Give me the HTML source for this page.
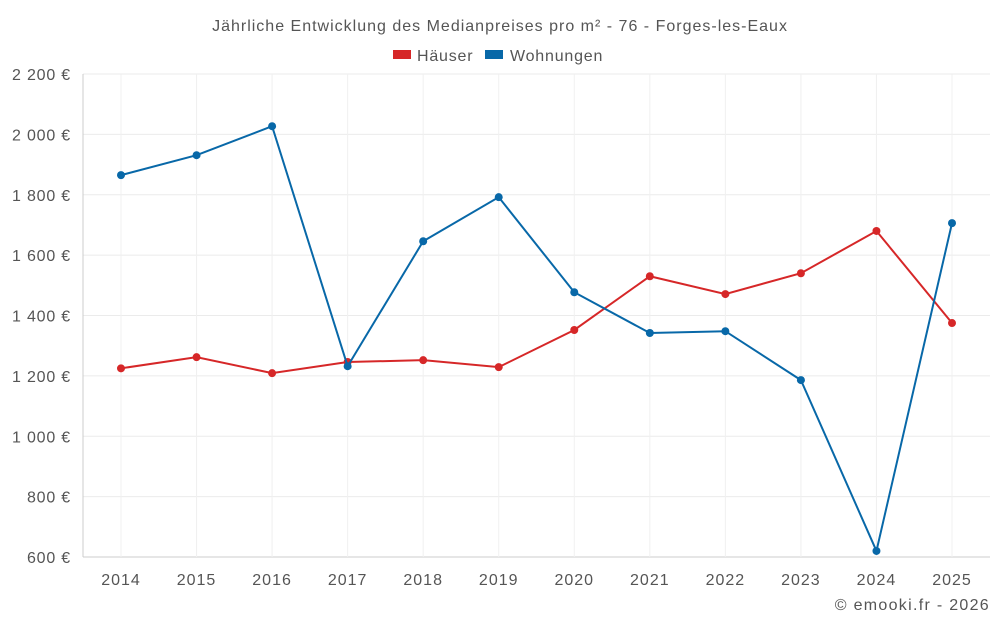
<!DOCTYPE html>
<html><head><meta charset="utf-8"><style>
body{margin:0;background:#fff;font-family:"Liberation Sans",sans-serif;}
svg text{font-family:"Liberation Sans",sans-serif;fill:#555;}
</style></head><body>
<svg id="c" width="1000" height="625">
<text x="500" y="31" text-anchor="middle" font-size="16" letter-spacing="1">Jährliche Entwicklung des Medianpreises pro m² - 76 - Forges-les-Eaux</text>
<g>
<rect x="393" y="50" width="18" height="9" fill="#d62728"/>
<text x="417" y="61" font-size="16" letter-spacing="0.8">Häuser</text>
<rect x="485" y="50" width="18" height="9" fill="#0868a8"/>
<text x="510" y="61" font-size="16" letter-spacing="0.8">Wohnungen</text>
</g>
<g id="grid"></g><g id="axes"></g><g id="series"></g>
<text x="990" y="610" text-anchor="end" font-size="16" letter-spacing="1.3">© emooki.fr - 2026</text>
</svg>
<script>
const years=[2014,2015,2016,2017,2018,2019,2020,2021,2022,2023,2024,2025];
const houses=[1225,1262,1209,1246,1252,1229,1352,1530,1471,1540,1680,1375];
const apartments=[1865,1931,2027,1232,1646,1792,1477,1342,1348,1186,620,1706];
const yTicks=[600,800,1000,1200,1400,1600,1800,2000,2200];
const L=83,R=990,T=74,B=557,ymin=600,ymax=2200;
const xs=i=>121+i*(952-121)/(years.length-1);
const ys=v=>B-(v-ymin)/(ymax-ymin)*(B-T);
const ns="http://www.w3.org/2000/svg";
function mk(t,a,p){const e=document.createElementNS(ns,t);for(const k in a)e.setAttribute(k,a[k]);p.appendChild(e);return e;}
const g=document.getElementById('grid'),ax=document.getElementById('axes'),s=document.getElementById('series');
yTicks.forEach(v=>{const y=ys(v);
const l=mk('line',{x1:L,x2:R,y1:y,y2:y,stroke:v===ymin?'#ccc':'#ebebeb'},g);


const t=mk('text',{x:L-12,y:y+6,'text-anchor':'end','font-size':16,'letter-spacing':0.8},ax);t.textContent=v.toLocaleString('fr-FR').replace(/\s/g,' ')+' €';

});
years.forEach((yr,i)=>{const x=xs(i);
const l=mk('line',{x1:x,x2:x,y1:T,y2:B,stroke:'#f0f0f0'},g);


const t=mk('text',{x:x,y:585,'text-anchor':'middle','font-size':16,'letter-spacing':1},ax);t.textContent=yr;

});
const ll=mk('line',{x1:L,x2:L,y1:T,y2:B,stroke:'#ccc'},ax);


[[houses,'#d62728','houses'],[apartments,'#0868a8','apartments']].forEach(([d,c,n])=>{
const p=mk('polyline',{points:d.map((v,i)=>xs(i)+','+ys(v)).join(' '),fill:'none',stroke:c,'stroke-width':2},s);


d.forEach((v,i)=>{const ci=mk('circle',{cx:xs(i),cy:ys(v),r:4,fill:c},s);

});});
</script>
</body></html>
